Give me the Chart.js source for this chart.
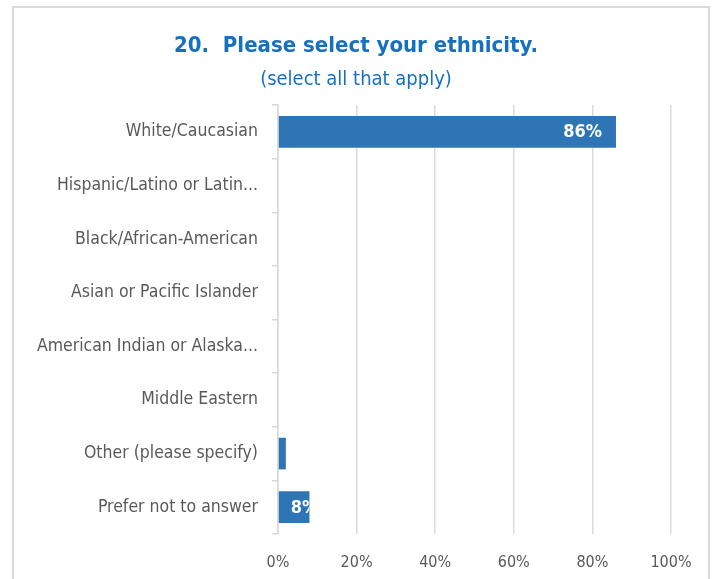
<!DOCTYPE html>
<html>
<head>
<meta charset="utf-8">
<script src="https://cdn.jsdelivr.net/npm/chart.js@4"></script>
<style>
  body { margin: 0; background: #fff; }
  #wrap { position: absolute; left: 0; top: 0; width: 712px; height: 579px; }
  #frame { position: absolute; left: 12px; top: 6px; width: 694px; height: 600px;
           border: 2px solid #d9d9d9; pointer-events: none; }
</style>
</head>
<body>
<div id="wrap"><canvas id="chart" width="712" height="579"></canvas></div>
<div id="frame"></div>
<script>
// chart data
const categories = [
  'White/Caucasian',
  'Hispanic/Latino or Latin...',
  'Black/African-American',
  'Asian or Pacific Islander',
  'American Indian or Alaska...',
  'Middle Eastern',
  'Other (please specify)',
  'Prefer not to answer'
];
const values = [86, 0, 0, 0, 0, 0, 2, 8];
const xTickValues = [0, 20, 40, 60, 80, 100];

const FONT = '"Liberation Sans Narrow", "DejaVu Sans Condensed", sans-serif';
const barColor = '#2E75B6';

// white value labels at the inside end of each bar, clipped to the bar
const barLabels = {
  id: 'barLabels',
  afterDatasetsDraw(chart) {
    const ctx = chart.ctx;
    const meta = chart.getDatasetMeta(0);
    ctx.save();
    ctx.font = 'bold 18px ' + FONT;
    ctx.fillStyle = '#fff';
    ctx.textBaseline = 'middle';
    meta.data.forEach((bar, i) => {
      const v = values[i];
      if (!v) return;
      const txt = v + '%';
      const w = ctx.measureText(txt).width;
      const left = bar.base, right = bar.x;
      const top = bar.y - bar.height / 2;
      let x = right - 14 - w;
      if (x < left + 12) x = left + 12;
      ctx.save();
      ctx.beginPath();
      ctx.rect(left, top, right - left, bar.height);
      ctx.clip();
      ctx.textAlign = 'left';
      ctx.fillText(txt, x, bar.y + 1);
      ctx.restore();
    });
    ctx.restore();
  }
};

new Chart(document.getElementById('chart'), {
  type: 'bar',
  data: {
    labels: categories,
    datasets: [{
      data: values,
      backgroundColor: barColor,
      borderWidth: 0,
      categoryPercentage: 1,
      barPercentage: 0.59
    }]
  },
  options: {
    indexAxis: 'y',
    responsive: false,
    animation: false,
    layout: { padding: 0 },
    scales: {
      x: {
        min: 0,
        max: 100,
        afterBuildTicks: axis => { axis.ticks = xTickValues.map(v => ({ value: v })); },
        afterFit: axis => { axis.height = 45; },
        grid: { color: '#dcdcdc', lineWidth: 1.5, drawTicks: false },
        border: { display: false },
        ticks: {
          padding: 19,
          color: '#595959',
          font: { family: FONT, size: 16 },
          callback: v => v + '%'
        }
      },
      y: {
        afterFit: axis => { axis.width = 278; },
        grid: { offset: true, drawOnChartArea: false, color: '#d9d9d9', lineWidth: 1.5, tickLength: 6 },
        border: { display: true, color: '#d9d9d9', width: 1.5 },
        ticks: {
          padding: 14,
          color: '#595959',
          font: { family: FONT, size: 17.5 },
          autoSkip: false
        }
      },
      // empty spacer on the right so the title stays centred on the whole box
      spacer: {
        type: 'linear',
        position: 'right',
        afterFit: axis => { axis.width = 41; },
        grid: { display: false },
        border: { display: false },
        ticks: { display: false }
      }
    },
    plugins: {
      legend: { display: false },
      tooltip: { enabled: false },
      title: {
        display: true,
        text: '20.  Please select your ethnicity.',
        color: '#1570C0',
        font: { family: FONT, size: 22, weight: 'bold' },
        padding: { top: 33, bottom: 4 }
      },
      subtitle: {
        display: true,
        text: '(select all that apply)',
        color: '#1570C0',
        font: { family: FONT, size: 20, weight: 'normal' },
        padding: { top: 4.6, bottom: 13 }
      }
    }
  },
  plugins: [barLabels]
});
</script>
</body>
</html>
